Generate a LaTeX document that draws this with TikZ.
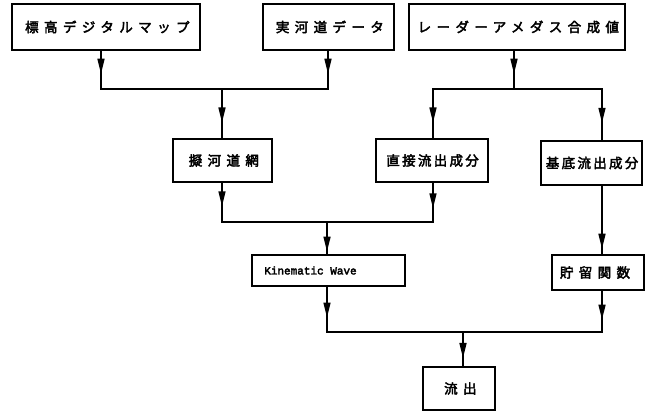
\documentclass[tikz,border=0pt]{standalone}
\usepackage{fontspec}
\newfontfamily\jp[LetterSpace=40,FakeBold=3]{Noto Sans CJK JP}
\newfontfamily\jpn[LetterSpace=17,FakeBold=3]{Noto Sans CJK JP}
\newfontfamily\kwfont[FakeBold=3]{Liberation Mono}
\usetikzlibrary{arrows.meta,decorations.markings}
\tikzset{
  box/.style={draw, line width=1.6pt, inner sep=0pt, minimum width=#1,
    font=\jp\fontsize{13.5}{15}\selectfont},
  narrowtext/.style={font=\jpn\fontsize{13.5}{15}\selectfont},
  conn/.style={line width=1.5pt, line cap=rect},
  arr/.style={conn, postaction={decorate},
    decoration={markings, mark=at position #1 with {\arrow{Triangle[length=15pt,width=7pt]}}}},
}
\begin{document}
\begin{tikzpicture}[x=1pt,y=-1pt]
\useasboundingbox (0,0) rectangle (672,412);
% top row
\node[box=188pt, minimum height=46pt] (b1) at (106,27) {\hspace*{2.7pt}標高デジタルマップ};
\node[box=131pt, minimum height=46pt] (b2) at (328.5,27) {\hspace*{2.7pt}実河道データ};
\node[box=216pt, minimum height=46pt] (b3) at (517,27) {\hspace*{2.7pt}レーダーアメダス合成値};
% second row
\node[box=99pt, minimum height=43pt] (gi) at (222.5,160.5) {\hspace*{2.7pt}擬河道網};
\node[box=112pt, minimum height=43pt, narrowtext] (cho) at (432,160.5) {\hspace*{1.2pt}直接流出成分};
\node[box=101pt, minimum height=44pt, narrowtext] (kit) at (591.5,163) {\hspace*{1.2pt}基底流出成分};
% third row
\node[box=153pt, minimum height=31pt, font=\kwfont\fontsize{11}{12}\selectfont] (kw) at (328.5,270.5) {Kinematic Wave\hspace*{36pt}};
\node[box=92pt, minimum height=35pt] (cho2) at (598,272.5) {貯留関数\hspace*{6pt}};
% bottom
\node[box=72pt, minimum height=43pt] (ryu) at (459,388.5) {\hspace*{2.7pt}流出};
% junction coordinates
\coordinate (j1l) at (101,89);
\coordinate (j1r) at (328,89);
\coordinate (j1m) at (222,89);
\coordinate (j2l) at (433,89);
\coordinate (j2r) at (602,89);
\coordinate (j2m) at (514,89);
\coordinate (j3l) at (222,222);
\coordinate (j3r) at (433,222);
\coordinate (j3m) at (327,222);
\coordinate (j4l) at (327,332);
\coordinate (j4r) at (602,332);
\coordinate (j4m) at (463,332);
% connectors top
\draw[arr=0.6] (b1.south -| j1l) -- (j1l);
\draw[arr=0.6] (b2.south -| j1r) -- (j1r);
\draw[conn] (j1l) -- (j1r);
\draw[arr=0.68] (j1m) -- (gi.north -| j1m);
\draw[arr=0.6] (b3.south -| j2m) -- (j2m);
\draw[conn] (j2l) -- (j2r);
\draw[arr=0.68] (j2l) -- (cho.north -| j2l);
\draw[arr=0.66] (j2r) -- (kit.north -| j2r);
% middle
\draw[arr=0.6] (gi.south -| j3l) -- (j3l);
\draw[arr=0.65] (cho.south -| j3r) -- (j3r);
\draw[conn] (j3l) -- (j3r);
\draw[arr=0.92] (j3m) -- (kw.north -| j3m);
\draw[arr=0.92] (kit.south -| j4r) -- (cho2.north -| j4r);
% bottom
\draw[arr=0.68] (kw.south -| j4l) -- (j4l);
\draw[arr=0.7] (cho2.south -| j4r) -- (j4r);
\draw[conn] (j4l) -- (j4r);
\draw[arr=0.76] (j4m) -- (ryu.north -| j4m);
\end{tikzpicture}
\end{document}
